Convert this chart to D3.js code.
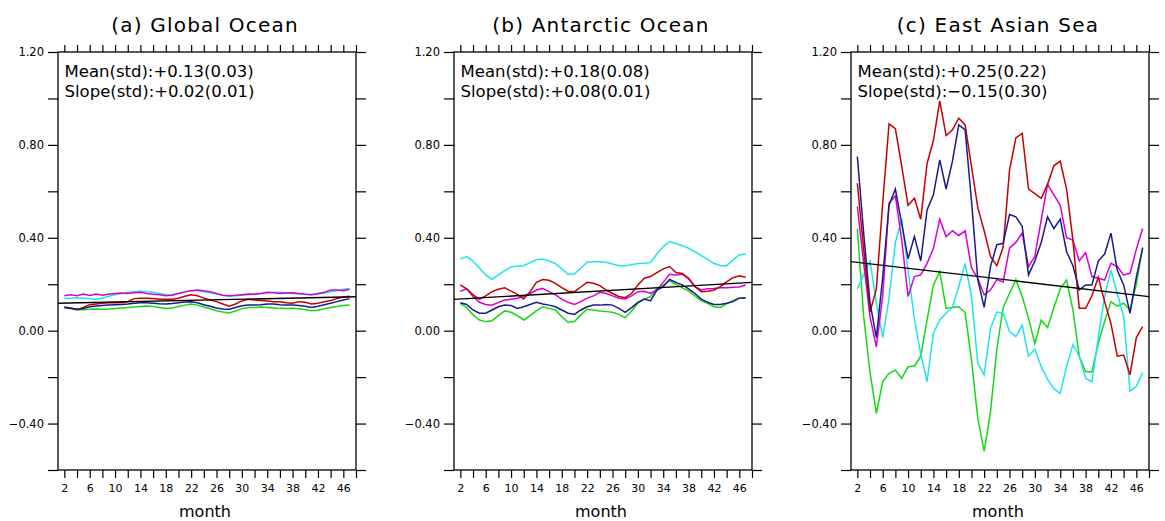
<!DOCTYPE html>
<html lang="en">
<head>
    <meta charset="UTF-8">
    <title>Ocean panels</title>
    <script src="https://d3js.org/d3.v7.min.js"></script>
    <style>
        body { margin: 0; background: #fff; }
        svg { display: block; }
        text { font-family: "DejaVu Sans", sans-serif; fill: #000; }
        .axis path.domain { display: none; }
        .axis line { stroke: #000; stroke-width: 1.2; }
        .frame { fill: none; stroke: #000; stroke-width: 1.3; }
        .series { fill: none; stroke-width: 1.5; }
        .trend { fill: none; stroke: #000; stroke-width: 1.3; }
    </style>
</head>
<body>
    <svg id="chart"></svg>

    <script>
        // months 2..47
        var months = d3.range(2, 48);

        var titles = ["(a) Global Ocean", "(b) Antarctic Ocean", "(c) East Asian Sea"];
        var meanLabels = ["Mean(std):+0.13(0.03)", "Mean(std):+0.18(0.08)", "Mean(std):+0.25(0.22)"];
        var slopeLabels = ["Slope(std):+0.02(0.01)", "Slope(std):+0.08(0.01)", "Slope(std):\u22120.15(0.30)"];

        var yTicks = [-0.6, -0.4, -0.2, 0, 0.2, 0.4, 0.6, 0.8, 1.0, 1.2];
        var yTickLabels = [-0.4, 0, 0.4, 0.8, 1.2];
        var xTicks = [2, 4, 6, 8, 10, 12, 14, 16, 18, 20, 22, 24, 26, 28, 30, 32, 34, 36, 38, 40, 42, 44, 46, 48];
        var xTickLabels = [2, 6, 10, 14, 18, 22, 26, 30, 34, 38, 42, 46];

        // (a) Global Ocean
        var redA = [0.102,0.098,0.090,0.100,0.112,0.115,0.118,0.120,0.120,0.120,0.125,0.138,0.140,0.140,0.138,0.135,0.135,0.135,0.140,0.148,0.155,0.150,0.140,
                    0.132,0.125,0.115,0.105,0.115,0.128,0.135,0.132,0.130,0.128,0.125,0.125,0.120,0.118,0.125,0.122,0.115,0.118,0.125,0.130,0.138,0.145,0.148];
        var navyA = [0.100,0.097,0.092,0.095,0.103,0.106,0.108,0.110,0.112,0.113,0.115,0.118,0.120,0.120,0.118,0.116,0.115,0.117,0.120,0.123,0.125,0.120,0.112,
                     0.105,0.098,0.093,0.092,0.100,0.107,0.110,0.110,0.112,0.115,0.115,0.112,0.110,0.110,0.108,0.105,0.100,0.105,0.112,0.118,0.125,0.132,0.138];
        var magentaA = [0.150,0.155,0.150,0.158,0.152,0.158,0.153,0.157,0.160,0.162,0.160,0.163,0.165,0.160,0.157,0.155,0.150,0.153,0.160,0.167,0.172,0.175,0.172,
                        0.168,0.160,0.153,0.150,0.152,0.155,0.158,0.157,0.160,0.165,0.163,0.160,0.162,0.163,0.160,0.157,0.155,0.160,0.165,0.175,0.175,0.172,0.178];
        var cyanA = [0.138,0.140,0.142,0.140,0.137,0.135,0.140,0.148,0.155,0.160,0.165,0.168,0.170,0.168,0.165,0.160,0.155,0.155,0.160,0.167,0.172,0.172,0.168,
                     0.163,0.158,0.152,0.148,0.150,0.153,0.155,0.158,0.160,0.163,0.165,0.165,0.163,0.160,0.158,0.157,0.155,0.158,0.162,0.168,0.172,0.178,0.182];
        var greenA = [0.100,0.094,0.090,0.090,0.092,0.093,0.092,0.092,0.095,0.098,0.100,0.102,0.104,0.106,0.104,0.100,0.096,0.098,0.104,0.110,0.115,0.110,0.102,
                      0.094,0.086,0.080,0.076,0.085,0.095,0.100,0.100,0.102,0.100,0.098,0.096,0.095,0.096,0.094,0.090,0.086,0.088,0.094,0.100,0.104,0.108,0.110];
        var trendA = [0.118, 0.146];

        // (b) Antarctic Ocean
        var redB = [0.197,0.180,0.154,0.136,0.150,0.168,0.178,0.185,0.170,0.156,0.136,0.168,0.208,0.220,0.217,0.204,0.185,0.170,0.168,0.188,0.208,0.204,0.194,
                    0.175,0.160,0.147,0.142,0.160,0.197,0.226,0.233,0.250,0.266,0.276,0.250,0.246,0.226,0.190,0.168,0.170,0.175,0.190,0.210,0.228,0.236,0.230];
        var navyB = [0.120,0.113,0.089,0.075,0.075,0.089,0.103,0.110,0.108,0.096,0.103,0.113,0.122,0.115,0.110,0.103,0.089,0.075,0.070,0.089,0.103,0.110,0.110,
                     0.113,0.110,0.096,0.079,0.099,0.122,0.136,0.128,0.175,0.190,0.221,0.208,0.197,0.180,0.160,0.136,0.122,0.113,0.113,0.118,0.125,0.140,0.142];
        var magentaB = [0.170,0.180,0.147,0.122,0.113,0.110,0.122,0.132,0.135,0.140,0.147,0.160,0.175,0.182,0.168,0.154,0.136,0.122,0.113,0.125,0.140,0.150,0.165,
                        0.160,0.150,0.140,0.136,0.150,0.168,0.170,0.160,0.175,0.208,0.243,0.240,0.243,0.223,0.190,0.175,0.180,0.182,0.185,0.185,0.187,0.188,0.197];
        var cyanB = [0.309,0.319,0.300,0.270,0.240,0.220,0.240,0.259,0.274,0.279,0.280,0.293,0.305,0.309,0.300,0.289,0.266,0.243,0.244,0.270,0.295,0.297,0.297,
                     0.295,0.287,0.280,0.280,0.284,0.289,0.290,0.293,0.330,0.362,0.384,0.375,0.366,0.355,0.340,0.323,0.307,0.290,0.280,0.280,0.305,0.326,0.330];
        var greenB = [0.118,0.099,0.068,0.046,0.039,0.043,0.065,0.085,0.079,0.065,0.046,0.065,0.085,0.103,0.096,0.089,0.060,0.036,0.039,0.068,0.092,0.089,0.085,
                      0.082,0.079,0.070,0.056,0.085,0.118,0.136,0.147,0.182,0.195,0.215,0.200,0.185,0.170,0.150,0.128,0.118,0.103,0.100,0.115,0.130,0.140,0.142];
        var trendB = [0.135, 0.208];

        // (c) East Asian Sea
        var redC = [0.635,0.350,0.080,0.180,0.550,0.890,0.870,0.707,0.540,0.570,0.480,0.720,0.820,0.990,0.840,0.865,0.915,0.886,0.707,0.530,0.430,0.320,0.280,
                    0.360,0.690,0.830,0.850,0.610,0.590,0.570,0.630,0.710,0.730,0.610,0.390,0.096,0.096,0.150,0.230,0.125,0.030,-0.110,-0.105,-0.190,-0.030,0.017];
        var navyC = [0.750,0.420,0.120,-0.030,0.230,0.540,0.610,0.460,0.310,0.405,0.300,0.520,0.585,0.735,0.610,0.730,0.886,0.865,0.560,0.220,0.100,0.276,0.370,
                     0.376,0.500,0.490,0.450,0.240,0.300,0.380,0.490,0.440,0.480,0.340,0.280,0.175,0.197,0.197,0.300,0.330,0.420,0.260,0.197,0.075,0.230,0.355];
        var magentaC = [0.535,0.290,0.060,-0.070,0.150,0.550,0.580,0.390,0.147,0.233,0.240,0.290,0.355,0.480,0.405,0.430,0.410,0.430,0.270,0.225,0.154,0.175,0.220,
                        0.210,0.355,0.380,0.420,0.276,0.320,0.477,0.630,0.585,0.540,0.400,0.390,0.300,0.336,0.233,0.226,0.218,0.290,0.276,0.240,0.247,0.350,0.440];
        var cyanC = [0.180,0.240,0.300,0.120,-0.030,0.140,0.380,0.480,0.260,0.050,-0.100,-0.220,-0.010,0.046,0.075,0.100,0.190,0.290,0.147,-0.140,-0.190,0.010,0.080,
                     0.075,-0.004,-0.026,0.024,-0.110,-0.080,-0.155,-0.210,-0.250,-0.270,-0.155,-0.060,-0.110,-0.205,-0.220,-0.030,0.147,0.260,0.160,0.060,-0.260,-0.240,-0.180];
        var greenC = [0.440,0.060,-0.180,-0.356,-0.220,-0.184,-0.170,-0.205,-0.155,-0.152,-0.110,0.046,0.197,0.254,0.096,0.100,0.103,0.078,-0.126,-0.378,-0.520,-0.350,-0.080,
                      0.100,0.160,0.220,0.147,0.053,-0.055,0.046,0.014,0.100,0.180,0.218,0.090,-0.110,-0.177,-0.177,-0.055,0.040,0.125,0.106,0.118,0.090,0.200,0.360];
        var trendC = [0.297, 0.147];

        var colors = { green: "#14d814", cyan: "#1ee4ee", magenta: "#d800d8", red: "#c40000", navy: "#1a1a8a" };

        var panels = [
            { series: { green: greenA, cyan: cyanA, magenta: magentaA, red: redA, navy: navyA }, trend: trendA },
            { series: { green: greenB, cyan: cyanB, magenta: magentaB, red: redB, navy: navyB }, trend: trendB },
            { series: { green: greenC, cyan: cyanC, magenta: magentaC, red: redC, navy: navyC }, trend: trendC }
        ];

        var width = 1165, height = 521;
        var lefts = [58, 454, 851];
        var plotW = 298, plotTop = 52, plotBottom = 470;

        var svg = d3.select("#chart")
            .attr("width", width)
            .attr("height", height);

        var y = d3.scaleLinear().domain([-0.6, 1.2]).range([plotBottom, plotTop]);
        var fmt = d3.format(".2f");

        panels.forEach(function(p, i) {
            var left = lefts[i];
            var x = d3.scaleLinear().domain([1, 48]).range([left, left + plotW]);
            var g = svg.append("g");

            // axes
            g.append("g").attr("class", "axis")
                .attr("transform", "translate(" + left + ",0)")
                .call(d3.axisLeft(y).tickValues(yTicks).tickSize(10).tickPadding(4)
                    .tickFormat(function(d) { return yTickLabels.some(function(v) { return Math.abs(v - d) < 1e-6; }) ? fmt(d) : ""; }))
                .selectAll("text").style("font-size", "11.5px").style("font-family", "DejaVu Sans");

            g.append("g").attr("class", "axis")
                .attr("transform", "translate(" + (left + plotW) + ",0)")
                .call(d3.axisRight(y).tickValues(yTicks).tickSize(10).tickFormat(""));

            g.append("g").attr("class", "axis")
                .attr("transform", "translate(0," + plotTop + ")")
                .call(d3.axisTop(x).tickValues(xTicks).tickSize(7).tickFormat(""));

            g.append("g").attr("class", "axis")
                .attr("transform", "translate(0," + plotBottom + ")")
                .call(d3.axisBottom(x).tickValues(xTicks).tickSize(8).tickPadding(6)
                    .tickFormat(function(d) { return xTickLabels.indexOf(d) >= 0 ? d : ""; }))
                .selectAll("text").style("font-size", "11px").style("font-family", "DejaVu Sans");

            g.append("rect").attr("class", "frame")
                .attr("x", left).attr("y", plotTop)
                .attr("width", plotW).attr("height", plotBottom - plotTop);

            // data lines
            var line = d3.line()
                .x(function(d, j) { return x(months[j]); })
                .y(function(d) { return y(d); });

            Object.keys(p.series).forEach(function(k) {
                g.append("path")
                    .attr("class", "series")
                    .attr("stroke", colors[k])
                    .attr("d", line(p.series[k]));
            });

            g.append("line").attr("class", "trend")
                .attr("x1", x(1)).attr("y1", y(p.trend[0]))
                .attr("x2", x(48)).attr("y2", y(p.trend[1]));

            // texts
            g.append("text")
                .attr("x", left + plotW / 2 - 2).attr("y", 32)
                .attr("text-anchor", "middle")
                .style("font-size", "20px")
                .style("letter-spacing", "1.2px")
                .text(titles[i]);

            g.append("text")
                .attr("x", left + 6.5).attr("y", 77)
                .style("font-size", "16.5px")
                .text(meanLabels[i]);

            g.append("text")
                .attr("x", left + 6.5).attr("y", 97)
                .style("font-size", "16.5px")
                .text(slopeLabels[i]);

            g.append("text")
                .attr("x", left + plotW / 2 - 2).attr("y", 517)
                .attr("text-anchor", "middle")
                .style("font-size", "16px")
                .text("month");
        });
    </script>
</body>
</html>
